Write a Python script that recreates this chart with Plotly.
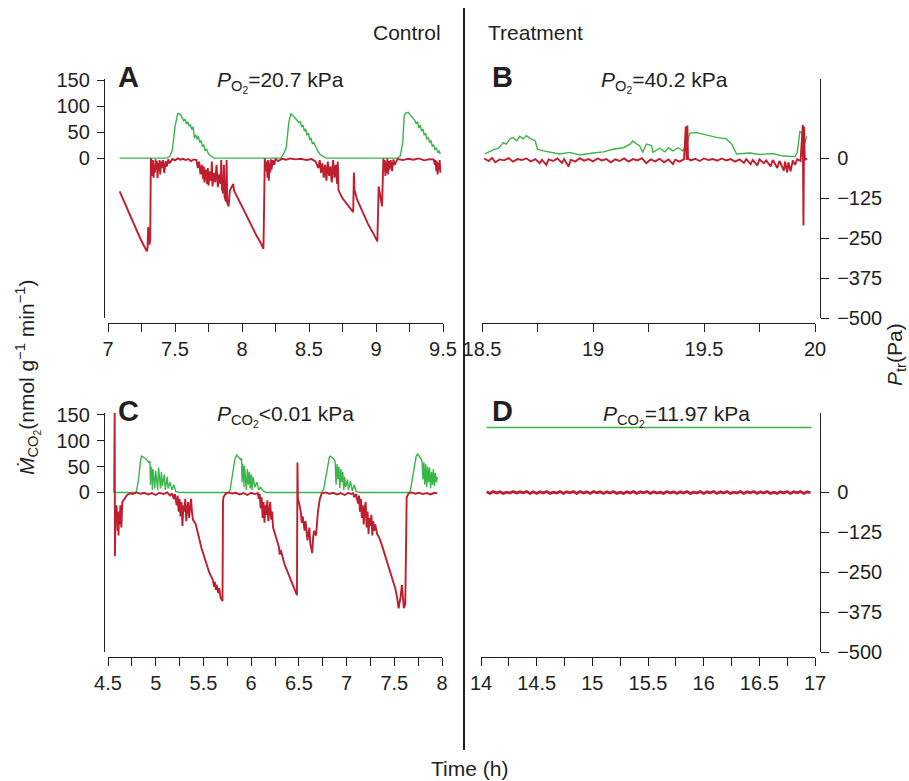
import plotly.graph_objects as go

W, H = 909, 781
GREEN = "#39b54a"
RED = "#be1e2d"
INK = "#231f20"
FONT = "Liberation Sans, Arial, sans-serif"

# --- data: (time h, value) ---
# green = M_CO2 (nmol g-1 min-1), red = P_tr (Pa)
A_GREEN = [
    (7.087, 0), (7.30, 0), (7.44, 0), (7.46, 3), (7.48, 15), (7.50, 60), (7.52, 86), (7.54, 84),
    (7.555, 78), (7.565, 72), (7.575, 75), (7.585, 66), (7.595, 70), (7.605, 62), (7.615, 64),
    (7.625, 55), (7.635, 60), (7.645, 38), (7.655, 45), (7.665, 36), (7.675, 42), (7.685, 30),
    (7.695, 34), (7.705, 22), (7.715, 26), (7.725, 14), (7.735, 18), (7.75, 8), (7.77, 4), (7.79, 0),
    (8.29, 0), (8.31, 8), (8.33, 20), (8.35, 70), (8.365, 85), (8.38, 82), (8.40, 76), (8.415, 72),
    (8.425, 68), (8.435, 70), (8.445, 60), (8.455, 64), (8.465, 52), (8.475, 56), (8.485, 44),
    (8.495, 48), (8.505, 36), (8.515, 38), (8.525, 28), (8.535, 30), (8.55, 20), (8.565, 14),
    (8.58, 8), (8.60, 4), (8.63, 0),
    (9.16, 0), (9.18, 4), (9.20, 30), (9.21, 80), (9.22, 86), (9.24, 88), (9.26, 82), (9.28, 76),
    (9.29, 72), (9.30, 66), (9.31, 70), (9.32, 58), (9.33, 64), (9.34, 52), (9.35, 56), (9.36, 44),
    (9.37, 48), (9.38, 36), (9.39, 40), (9.40, 30), (9.41, 34), (9.42, 22), (9.43, 26), (9.44, 16),
    (9.45, 20), (9.46, 12), (9.47, 14), (9.48, 8),
]
A_RED = [
    (7.087, -103), (7.12, -135), (7.16, -175), (7.20, -210), (7.24, -250), (7.27, -275), (7.29, -291),
    (7.295, -280), (7.30, -215), (7.305, -245), (7.31, -270), (7.315, -255), (7.32, 0),
    (7.325, -10), (7.33, -55), (7.335, -5), (7.34, -60), (7.345, -20), (7.35, -45), (7.355, -3),
    (7.36, -35), (7.365, -8), (7.37, -62), (7.375, -15), (7.38, -40), (7.385, -5), (7.39, -50),
    (7.395, -10), (7.40, -30), (7.41, -5), (7.42, -45), (7.43, -8), (7.44, -25), (7.45, -3),
    (7.46, -15), (7.48, -2), (7.50, -6), (7.52, 0), (7.54, -4), (7.56, -1), (7.58, -5), (7.60, -2),
    (7.62, -8), (7.64, -3), (7.66, -5), (7.67, -30), (7.68, -10), (7.69, -50), (7.70, -20),
    (7.71, -65), (7.715, -25), (7.72, -75), (7.73, -35), (7.74, -80), (7.745, -30), (7.75, -85),
    (7.76, -40), (7.77, -70), (7.775, -10), (7.78, -88), (7.79, -45), (7.80, -75), (7.81, -20),
    (7.82, -90), (7.83, -50), (7.84, -80), (7.845, -5), (7.85, -95), (7.86, -110), (7.865, -20),
    (7.87, -120), (7.88, -135), (7.885, -5), (7.89, -140), (7.90, -150), (7.91, -100),
    (7.935, -80), (7.94, -100), (8.00, -150), (8.05, -195), (8.10, -235), (8.14, -265),
    (8.16, -283), (8.165, -150), (8.17, 0),
    (8.18, -40), (8.185, -10), (8.19, -60), (8.195, -5), (8.20, -70), (8.205, -15), (8.21, -45),
    (8.215, -3), (8.22, -35), (8.23, -5), (8.24, -20), (8.25, -2), (8.27, -8), (8.30, -1),
    (8.33, -4), (8.36, 0), (8.40, -3), (8.44, -1), (8.48, -5), (8.52, -2), (8.55, -10), (8.57, -30),
    (8.58, -5), (8.59, -45), (8.60, -15), (8.61, -60), (8.62, -20), (8.63, -70), (8.64, -10),
    (8.65, -55), (8.66, -25), (8.67, -75), (8.68, -5), (8.69, -60), (8.70, -20), (8.71, -80),
    (8.715, -10), (8.72, -100), (8.75, -125), (8.78, -140), (8.81, -155), (8.83, -168),
    (8.835, -44), (8.84, -100), (8.86, -130), (8.90, -170), (8.94, -205), (8.98, -235),
    (9.01, -260), (9.02, -88), (9.035, -135), (9.045, -150), (9.055, 0),
    (9.06, -40), (9.065, -5), (9.07, -55), (9.075, -10), (9.08, -45), (9.085, 0), (9.09, -50),
    (9.095, -8), (9.10, -35), (9.11, -5), (9.12, -40), (9.13, -3), (9.14, -20), (9.16, -2),
    (9.20, -5), (9.24, -1), (9.28, -4), (9.32, 0), (9.36, -6), (9.40, -2), (9.43, -3), (9.44, -20),
    (9.445, -5), (9.45, -40), (9.455, -10), (9.46, -50), (9.465, -15), (9.47, -35), (9.475, -5),
    (9.48, -45),
]
B_GREEN = [
    (18.513, 8), (18.55, 16), (18.574, 19), (18.596, 30), (18.61, 27), (18.626, 37), (18.64, 40),
    (18.656, 33), (18.67, 42), (18.686, 37), (18.70, 43), (18.716, 38), (18.74, 33), (18.75, 17),
    (18.776, 14), (18.806, 11), (18.85, 8), (18.896, 11), (18.94, 6), (19.0, 10), (19.047, 12),
    (19.09, 17), (19.137, 20), (19.167, 27), (19.18, 33), (19.197, 27), (19.21, 24), (19.224, 11),
    (19.24, 27), (19.264, 24), (19.27, 11), (19.30, 19), (19.324, 12), (19.34, 20), (19.36, 14),
    (19.384, 20), (19.404, 14), (19.42, 24), (19.437, 48), (19.467, 49), (19.51, 44), (19.557, 40),
    (19.60, 37), (19.625, 27), (19.647, 8), (19.707, 10), (19.752, 7), (19.81, 9), (19.857, 4),
    (19.91, 3), (19.92, 11), (19.932, 51), (19.947, 48), (19.955, 30), (19.962, 42),
]
B_RED = [
    (18.51, 0), (18.53, -8), (18.545, 2), (18.56, -12), (18.58, -3), (18.60, -6), (18.62, 1),
    (18.64, -10), (18.66, -2), (18.68, -5), (18.70, 0), (18.72, -9), (18.74, -2), (18.76, -15),
    (18.77, -4), (18.79, -20), (18.80, -3), (18.82, -8), (18.84, 0), (18.86, -14), (18.87, -2),
    (18.89, -25), (18.90, -4), (18.92, -10), (18.94, 1), (18.96, -7), (18.98, -2), (19.00, -9),
    (19.02, 0), (19.04, -6), (19.06, -2), (19.08, -12), (19.10, -3), (19.12, -8), (19.14, 0),
    (19.16, -10), (19.18, -2), (19.20, -6), (19.22, 1), (19.24, -15), (19.26, -3), (19.28, -9),
    (19.30, -1), (19.32, -12), (19.34, -3), (19.36, -18), (19.37, -4), (19.39, -10), (19.41, -2),
    (19.418, 100), (19.422, -5), (19.425, 103), (19.428, 0), (19.44, -6), (19.46, -1), (19.48, -8),
    (19.50, 0), (19.52, -5), (19.54, -2), (19.56, -7), (19.58, 0), (19.60, -6), (19.62, -2),
    (19.64, -10), (19.66, -3), (19.68, -14), (19.69, -2), (19.71, -18), (19.72, -5), (19.74, -22),
    (19.75, -3), (19.77, -15), (19.78, -6), (19.80, -25), (19.81, -5), (19.83, -30), (19.84, -8),
    (19.86, -38), (19.865, -10), (19.875, -44), (19.88, -12), (19.89, -40), (19.90, -6),
    (19.91, -20), (19.92, -2), (19.935, -8), (19.945, 105), (19.948, -210), (19.951, 100),
    (19.954, -5), (19.965, 0),
]
C_GREEN = [
    (4.57, 0), (4.79, 0), (4.80, 4), (4.82, 25), (4.84, 60), (4.85, 70), (4.87, 68), (4.89, 66),
    (4.91, 62), (4.93, 58), (4.94, 60), (4.945, 15), (4.95, 50), (4.96, 40), (4.965, 5), (4.97, 45),
    (4.98, 30), (4.99, 8), (5.00, 42), (5.01, 25), (5.02, 5), (5.03, 48), (5.04, 20), (5.05, 8),
    (5.06, 40), (5.07, 12), (5.09, 35), (5.10, 5), (5.12, 30), (5.13, 8), (5.15, 20), (5.17, 5),
    (5.19, 15), (5.21, 2), (5.25, 0),
    (5.77, 0), (5.78, 5), (5.80, 30), (5.83, 65), (5.85, 72), (5.87, 68), (5.89, 63), (5.90, 66),
    (5.905, 20), (5.91, 55), (5.92, 40), (5.925, 10), (5.93, 52), (5.94, 28), (5.95, 5), (5.96, 45),
    (5.97, 15), (5.98, 40), (5.99, 8), (6.00, 35), (6.01, 5), (6.02, 30), (6.04, 10), (6.06, 20),
    (6.08, 5), (6.10, 10), (6.13, 2), (6.16, 0),
    (6.74, 0), (6.76, 6), (6.79, 40), (6.82, 68), (6.83, 70), (6.86, 66), (6.88, 60), (6.89, 15),
    (6.90, 55), (6.91, 25), (6.92, 50), (6.93, 8), (6.94, 45), (6.95, 20), (6.96, 40), (6.97, 5),
    (6.98, 30), (6.99, 10), (7.01, 25), (7.02, 5), (7.04, 22), (7.06, 3), (7.08, 15), (7.10, 2),
    (7.14, 0),
    (7.66, 0), (7.67, 5), (7.70, 40), (7.73, 70), (7.745, 74), (7.77, 68), (7.79, 62), (7.80, 25),
    (7.81, 58), (7.82, 15), (7.83, 55), (7.84, 10), (7.85, 50), (7.86, 20), (7.87, 48), (7.88, 8),
    (7.89, 40), (7.90, 15), (7.91, 45), (7.92, 12), (7.93, 38), (7.94, 20), (7.95, 30),
]
C_RED = [
    (4.565, 0), (4.57, 249), (4.573, -200), (4.577, -70), (4.58, -80), (4.59, -40), (4.60, -120),
    (4.605, -60), (4.61, -135), (4.615, -70), (4.62, -100), (4.63, -40), (4.64, -110), (4.65, -30),
    (4.66, -25), (4.68, -15), (4.70, -8), (4.73, -3), (4.76, -5), (4.80, 0), (4.84, -4), (4.88, -1),
    (4.92, -6), (4.96, -2), (5.00, -8), (5.04, -1), (5.08, -5), (5.12, 0), (5.15, -10), (5.17, -3),
    (5.19, -20), (5.20, -5), (5.22, -40), (5.23, -10), (5.24, -60), (5.25, -20), (5.26, -75),
    (5.27, -30), (5.28, -105), (5.29, -40), (5.30, -60), (5.31, -20), (5.32, -90), (5.33, -50),
    (5.34, -30), (5.35, -80), (5.36, -40), (5.37, -20), (5.38, -60), (5.39, -85), (5.42, -100),
    (5.44, -130), (5.46, -150), (5.48, -175), (5.50, -195), (5.52, -215), (5.54, -230),
    (5.56, -250), (5.58, -262), (5.60, -275), (5.61, -295), (5.62, -280), (5.63, -305),
    (5.64, -290), (5.655, -315), (5.665, -300), (5.68, -330), (5.70, -340), (5.705, -30),
    (5.71, -15), (5.73, -5), (5.76, 0), (5.80, -3), (5.84, -1), (5.88, -6), (5.92, -2), (5.96, -8),
    (6.00, -1), (6.04, -5), (6.07, -2), (6.08, -20), (6.09, -5), (6.10, -50), (6.11, -15),
    (6.12, -80), (6.13, -30), (6.14, -95), (6.15, -40), (6.16, -70), (6.17, -25), (6.18, -90),
    (6.19, -50), (6.20, -30), (6.21, -85), (6.22, -60), (6.23, -110), (6.25, -135), (6.27, -150),
    (6.29, -170), (6.30, -195), (6.31, -180), (6.33, -205), (6.35, -225), (6.37, -240),
    (6.39, -255), (6.41, -270), (6.43, -285), (6.45, -300), (6.47, -315), (6.48, -322),
    (6.485, 94), (6.49, -20), (6.50, -30), (6.52, -60), (6.53, -95), (6.54, -75), (6.56, -120),
    (6.57, -90), (6.59, -150), (6.61, -110), (6.62, -160), (6.64, -190), (6.65, -140),
    (6.66, -120), (6.68, -135), (6.70, -60), (6.72, -20), (6.74, -3), (6.78, 0), (6.82, -4),
    (6.86, -1), (6.90, -6), (6.94, -2), (6.98, -8), (7.02, -1), (7.05, -5), (7.07, -2),
    (7.08, -15), (7.10, -5), (7.12, -35), (7.13, -10), (7.14, -60), (7.15, -20), (7.16, -80),
    (7.17, -40), (7.18, -100), (7.19, -50), (7.20, -30), (7.21, -110), (7.22, -60), (7.23, -130),
    (7.24, -80), (7.25, -105), (7.26, -70), (7.27, -135), (7.28, -90), (7.29, -120), (7.30, -100),
    (7.32, -130), (7.34, -140), (7.37, -165), (7.40, -195), (7.43, -225), (7.46, -255),
    (7.49, -285), (7.51, -300), (7.53, -330), (7.545, -363), (7.555, -345), (7.565, -330),
    (7.58, -290), (7.59, -320), (7.60, -363), (7.615, -350), (7.625, -200), (7.63, -15),
    (7.65, -3), (7.68, 0), (7.72, -4), (7.76, -1), (7.80, -5), (7.84, -2), (7.88, -6), (7.92, -1),
    (7.95, -3),
]
D_GREEN = [(14.05, 125), (16.97, 125)]
D_RED = [
    (14.05, 2), (14.08, -3), (14.11, 3), (14.14, -2), (14.17, 2), (14.20, -3), (14.23, 1),
    (14.26, -2), (14.29, 3), (14.32, -2), (14.35, 2), (14.38, -1), (14.41, 3), (14.44, -3),
    (14.47, 2), (14.50, -3), (14.53, 2), (14.56, -2), (14.59, 3), (14.62, -3), (14.65, 1),
    (14.68, -2), (14.71, 3), (14.74, -3), (14.77, 2), (14.80, -1), (14.83, 3), (14.86, -3),
    (14.89, 3), (14.92, -2), (14.95, 2), (14.98, -3), (15.01, 3), (15.04, -1), (15.07, 2),
    (15.10, -3), (15.13, 2), (15.16, -2), (15.19, 3), (15.22, -3), (15.25, 1), (15.28, -3),
    (15.31, 2), (15.34, -2), (15.37, 3), (15.40, -3), (15.43, 2), (15.46, -1), (15.49, 3),
    (15.52, -3), (15.55, 2), (15.58, -2), (15.61, 1), (15.64, -3), (15.67, 3), (15.70, -2),
    (15.73, 2), (15.76, -3), (15.79, 2), (15.82, -2), (15.85, 3), (15.88, -3), (15.91, 1),
    (15.94, -2), (15.97, 3), (16.00, -3), (16.03, 2), (16.06, -1), (16.09, 3), (16.12, -3),
    (16.15, 2), (16.18, -2), (16.21, 3), (16.24, -3), (16.27, 1), (16.30, -2), (16.33, 3),
    (16.36, -3), (16.39, 2), (16.42, -1), (16.45, 3), (16.48, -3), (16.51, 2), (16.54, -2),
    (16.57, 3), (16.60, -3), (16.63, 1), (16.66, -3), (16.69, 2), (16.72, -2), (16.75, 3),
    (16.78, -3), (16.81, 2), (16.84, -1), (16.87, 3), (16.90, -3), (16.93, 2), (16.96, -1),
]

# labelled ticks every 0.5 h, unlabelled minor ticks every 0.25 h
A_XTICKS = [7, 7.5, 8, 8.5, 9, 9.5]
B_XTICKS = [18.5, 19, 19.5, 20]
C_XTICKS = [4.5, 5, 5.5, 6, 6.5, 7, 7.5, 8]
D_XTICKS = [14, 14.5, 15, 15.5, 16, 16.5, 17]
M_TICKS = [0, 50, 100, 150]
P_TICKS = [0, -125, -250, -375, -500]
P_LABELS = ["0", "\u2212125", "\u2212250", "\u2212375", "\u2212500"]


def px(x):
    return x / W


def py(y):
    return 1 - y / H


# panel geometry in pixels: x domain, y domain (top, bottom), x-axis y, ranges
panels = [
    dict(green=A_GREEN, red=A_RED, xd=(108, 443), yd=(79, 318), xaxis_y=323, xr=[7, 9.5],
         ml=[-307, 152], pr=[-500, 249], left=True, ticks=A_XTICKS),
    dict(green=B_GREEN, red=B_RED, xd=(482, 815), yd=(79, 318), xaxis_y=323, xr=[18.5, 20],
         ml=[-307, 152], pr=[-500, 249], left=False, ticks=B_XTICKS),
    dict(green=C_GREEN, red=C_RED, xd=(108, 442), yd=(413, 652), xaxis_y=657, xr=[4.5, 8],
         ml=[-307, 153], pr=[-500, 249], left=True, ticks=C_XTICKS),
    dict(green=D_GREEN, red=D_RED, xd=(481, 815), yd=(413, 652), xaxis_y=657, xr=[14, 17],
         ml=[-307, 153], pr=[-500, 249], left=False, ticks=D_XTICKS),
]

fig = go.Figure()
tickfont = dict(family=FONT, size=20, color=INK)
layout = {}

for i, p in enumerate(panels):
    xn = "" if i == 0 else str(i + 1)
    yl = "" if i == 0 else str(2 * i + 1)
    yr = str(2 * i + 2)

    gt, gv = zip(*p["green"])
    rt, rv = zip(*p["red"])
    fig.add_trace(go.Scatter(x=gt, y=gv, mode="lines", line=dict(color=GREEN, width=1.4),
                             xaxis="x" + xn, yaxis="y" + yl, showlegend=False))
    fig.add_trace(go.Scatter(x=rt, y=rv, mode="lines", line=dict(color=RED, width=1.9 if i < 3 else 2.8),
                             xaxis="x" + xn, yaxis="y" + yr, showlegend=False))

    layout["xaxis" + xn] = dict(
        domain=[px(p["xd"][0]), px(p["xd"][1])], range=p["xr"], anchor="free",
        position=py(p["xaxis_y"]), showline=True, linecolor=INK, linewidth=1.3,
        ticks="outside", ticklen=8, tickwidth=1.3, tickcolor=INK, automargin=False,
        tickvals=p["ticks"], tickfont=tickfont,
        minor=dict(ticks="outside", ticklen=8, tickwidth=1.3, tickcolor=INK, dtick=0.25,
                   tick0=p["xr"][0], showgrid=False),
        showgrid=False, zeroline=False, fixedrange=True,
    )
    layout["yaxis" + yl] = dict(
        domain=[py(p["yd"][1]), py(p["yd"][0])], range=p["ml"], anchor="free",
        position=px(104), side="left", visible=p["left"], showline=True, linecolor=INK,
        linewidth=1.3, ticks="outside", ticklen=7, tickwidth=1.3, tickcolor=INK,
        ticklabelstandoff=3, automargin=False, tickvals=M_TICKS, tickfont=tickfont,
        showgrid=False, zeroline=False,
    )
    layout["yaxis" + yr] = dict(
        overlaying="y" + yl, range=p["pr"], anchor="free", position=px(820), side="right",
        visible=not p["left"], showline=True, linecolor=INK, linewidth=1.3,
        ticks="outside", ticklen=8, tickwidth=1.3, tickcolor=INK, automargin=False,
        ticklabelstandoff=4, tickvals=P_TICKS, ticktext=P_LABELS, tickfont=tickfont,
        showgrid=False, zeroline=False,
    )


def note(text, x, y, size=21, bold=False, xanchor="center", angle=0):
    return dict(text=f"<b>{text}</b>" if bold else text, x=px(x), y=py(y), xref="paper",
                yref="paper", xanchor=xanchor, yanchor="middle", showarrow=False,
                textangle=angle, font=dict(family=FONT, size=size, color=INK))


annotations = [
    note("A", 116, 77, size=29, bold=True, xanchor="left"),
    note("B", 490, 77, size=29, bold=True, xanchor="left"),
    note("C", 116, 411, size=29, bold=True, xanchor="left"),
    note("D", 490, 411, size=29, bold=True, xanchor="left"),
    note("<i>P</i><sub>O<sub>2</sub></sub>=20.7 kPa", 280, 82),
    note("<i>P</i><sub>O<sub>2</sub></sub>=40.2 kPa", 664, 82),
    note("<i>P</i><sub>CO<sub>2</sub></sub>&lt;0.01 kPa", 285, 416),
    note("<i>P</i><sub>CO<sub>2</sub></sub>=11.97 kPa", 676, 416),
    note("Control", 407, 32),
    note("Treatment", 535, 32),
    note("Time (h)", 469, 768),
    note("<i>\u1e40</i><sub>CO<sub>2</sub></sub>(nmol g<sup>\u22121</sup> min<sup>\u22121</sup>)",
         28, 378, angle=-90),
    note("<i>P</i><sub>tr</sub>(Pa)", 896, 355, angle=-90),
]

fig.update_layout(
    width=W, height=H, margin=dict(l=0, r=0, t=0, b=0, pad=0, autoexpand=False),
    paper_bgcolor="white", plot_bgcolor="white", showlegend=False,
    annotations=annotations,
    shapes=[dict(type="line", xref="paper", yref="paper", x0=px(464), x1=px(464),
                 y0=py(8), y1=py(750), line=dict(color=INK, width=2))],
    **layout,
)

# the page's default 8px body margin would push the figure off its 909x781 frame
fig.write_html("out.html", config={"displayModeBar": False},
               post_script="document.body.style.margin='0';")
